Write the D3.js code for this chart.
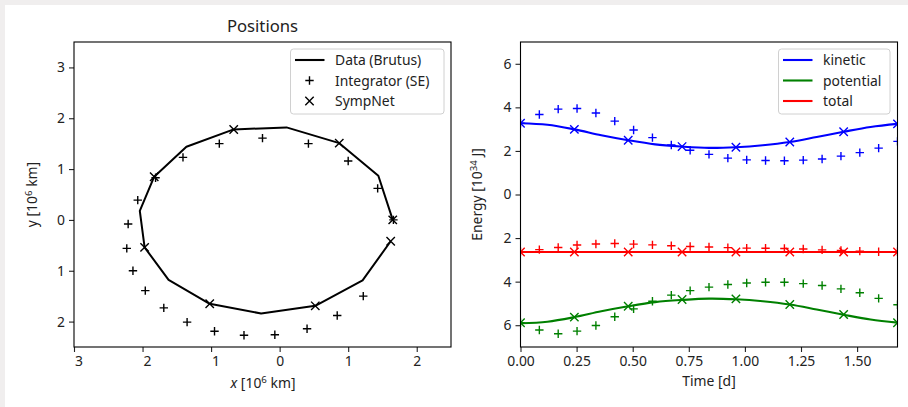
<!DOCTYPE html>
<html>
<head>
<meta charset="utf-8">
<script src="https://cdn.jsdelivr.net/npm/d3@7"></script>
<style>
body { margin: 0; background: #f0eeee; }
text { font-family: "Noto Sans", sans-serif; fill: #222; }
</style>
</head>
<body>
<svg id="chart" width="908" height="407"></svg>
<script>
// positions [10^6 km]
var brutusX = [1.65, 1.44, 0.87, 0.10, -0.67, -1.36, -1.83, -2.04, -1.97, -1.62, -1.02, -0.27, 0.52, 1.21, 1.62];
var brutusY = [0.00, 0.87, 1.51, 1.82, 1.78, 1.44, 0.85, 0.18, -0.54, -1.18, -1.65, -1.84, -1.69, -1.19, -0.42];
var seX = [1.66, 1.43, 1.00, 0.42, -0.25, -0.88, -1.41, -1.81, -2.07, -2.21, -2.23, -2.14, -1.96, -1.69, -1.35, -0.95, -0.52, -0.07, 0.40, 0.84, 1.22];
var seY = [0.00, 0.62, 1.16, 1.50, 1.61, 1.50, 1.23, 0.83, 0.39, -0.08, -0.56, -1.00, -1.39, -1.73, -2.01, -2.19, -2.27, -2.26, -2.14, -1.88, -1.50];
var netX = [1.65, 0.87, -0.67, -1.83, -1.97, -1.02, 0.52, 1.62];
var netY = [0.00, 1.51, 1.78, 0.85, -0.54, -1.65, -1.69, -0.42];

// energies [10^34 J]
var timeData = [0, 0.12, 0.24, 0.36, 0.48, 0.60, 0.72, 0.84, 0.96, 1.08, 1.20, 1.32, 1.44, 1.56, 1.68];
var kineticData = [3.27, 3.20, 2.99, 2.72, 2.49, 2.30, 2.20, 2.14, 2.17, 2.26, 2.41, 2.64, 2.88, 3.10, 3.24];
var potentialData = [-5.91, -5.84, -5.63, -5.36, -5.13, -4.94, -4.84, -4.78, -4.81, -4.90, -5.05, -5.28, -5.52, -5.74, -5.88];
var totalData = [-2.64, -2.64, -2.64, -2.64, -2.64, -2.64, -2.64, -2.64, -2.64, -2.64, -2.64, -2.64, -2.64, -2.64, -2.64];

var timeSE = [0, 0.084, 0.168, 0.252, 0.336, 0.42, 0.504, 0.588, 0.672, 0.756, 0.84, 0.924, 1.008, 1.092, 1.176, 1.26, 1.344, 1.428, 1.512, 1.596, 1.68];
var kineticSE = [3.27, 3.67, 3.92, 3.95, 3.74, 3.37, 2.96, 2.61, 2.27, 2.03, 1.84, 1.67, 1.59, 1.56, 1.55, 1.58, 1.63, 1.76, 1.92, 2.13, 2.44];
var potentialSE = [-5.89, -6.22, -6.39, -6.27, -6.01, -5.61, -5.25, -4.90, -4.62, -4.41, -4.25, -4.13, -4.06, -4.03, -4.03, -4.09, -4.18, -4.33, -4.51, -4.77, -5.06];
var totalSE = [-2.62, -2.53, -2.43, -2.32, -2.27, -2.25, -2.28, -2.31, -2.35, -2.39, -2.41, -2.44, -2.46, -2.47, -2.48, -2.50, -2.54, -2.57, -2.60, -2.63, -2.63];

var timeNet = [0, 0.24, 0.48, 0.72, 0.96, 1.20, 1.44, 1.68];
var kineticNet = [3.27, 2.99, 2.49, 2.20, 2.17, 2.41, 2.88, 3.24];
var potentialNet = [-5.89, -5.63, -5.13, -4.82, -4.79, -5.05, -5.51, -5.89];
var totalNet = [-2.64, -2.64, -2.64, -2.64, -2.64, -2.64, -2.64, -2.64];

var posTicksX = [-3, -2, -1, 0, 1, 2];
var posTicksY = [-2, -1, 0, 1, 2, 3];
var timeTicks = [0, 0.25, 0.5, 0.75, 1.0, 1.25, 1.5];
var energyTicks = [-6, -4, -2, 0, 2, 4, 6];

var svg = d3.select("#chart");
svg.append("rect").attr("x", 5).attr("y", 5).attr("width", 903).attr("height", 402).attr("fill", "white");

var plotTop = 42, plotBottom = 347;
var fontSize = 13.9;
var plusPath = "M-4.2,0H4.2M0,-4.2V4.2";
var crossPath = "M-4.2,-4.2L4.2,4.2M-4.2,4.2L4.2,-4.2";

function zip(a, b) { return a.map(function(v, i) { return [v, b[i]]; }); }

function drawAxes(xScale, yScale, xTicks, yTicks, xFmt, left, right, shiftNeg) {
	var xAxis = d3.axisBottom(xScale).tickValues(xTicks).tickSize(5).tickPadding(4).tickFormat(xFmt);
	var yAxis = d3.axisLeft(yScale).tickValues(yTicks).tickSize(5).tickPadding(4)
		.tickFormat(function(d) { return String(Math.abs(d)); });
	var gx = svg.append("g").attr("transform", "translate(0," + plotBottom + ")").call(xAxis);
	var gy = svg.append("g").attr("transform", "translate(" + left + ",0)").call(yAxis);
	[gx, gy].forEach(function(g) {
		g.select(".domain").remove();
		g.selectAll("line").attr("stroke", "#222").attr("stroke-width", 1.1);
		g.selectAll("text").style("font-size", fontSize + "px").attr("fill", "#222");
	});
	// minus glyph is missing in the reference, its space stays
	if (shiftNeg) gx.selectAll("text").attr("dx", function(d) { return d < 0 ? 4.5 : 0; });
	svg.append("rect").attr("x", left).attr("y", plotTop).attr("width", right - left).attr("height", plotBottom - plotTop)
		.attr("fill", "none").attr("stroke", "black").attr("stroke-width", 1.1);
}

function markers(g, pts, path, color) {
	g.selectAll(null).data(pts).enter().append("path")
		.attr("d", path)
		.attr("transform", function(d) { return "translate(" + d[0] + "," + d[1] + ")"; })
		.attr("stroke", color).attr("stroke-width", 1.4).attr("fill", "none");
}

function legend(x0, y0, w, items) {
	var g = svg.append("g").attr("transform", "translate(" + x0 + "," + y0 + ")");
	g.append("rect").attr("width", w).attr("height", 65).attr("rx", 3)
		.attr("fill", "white").attr("fill-opacity", 0.8).attr("stroke", "#d0d0d0");
	items.forEach(function(it, i) {
		var y = 11 + i * 20.5;
		if (it.type === "line") {
			g.append("line").attr("x1", 4.5).attr("x2", 34).attr("y1", y).attr("y2", y)
				.attr("stroke", it.color).attr("stroke-width", 2.1);
		} else {
			g.append("path").attr("d", it.type === "plus" ? plusPath : crossPath)
				.attr("transform", "translate(19," + y + ")")
				.attr("stroke", it.color).attr("stroke-width", 1.4).attr("fill", "none");
		}
		g.append("text").attr("x", 44.5).attr("y", y + 5).style("font-size", fontSize + "px").text(it.label);
	});
}

// ---- left: positions
var xPos = d3.scaleLinear().domain([-3, 2.5]).range([74, 451]);
var yPos = d3.scaleLinear().domain([-2.5, 3.5]).range([plotBottom, plotTop]);

var posG = svg.append("g");
posG.append("path").datum(zip(brutusX, brutusY))
	.attr("d", d3.line().x(function(d) { return xPos(d[0]); }).y(function(d) { return yPos(d[1]); }))
	.attr("fill", "none").attr("stroke", "black").attr("stroke-width", 2).attr("stroke-linejoin", "round");
markers(posG, zip(seX, seY).map(function(d) { return [xPos(d[0]), yPos(d[1])]; }), plusPath, "black");
markers(posG, zip(netX, netY).map(function(d) { return [xPos(d[0]), yPos(d[1])]; }), crossPath, "black");

drawAxes(xPos, yPos, posTicksX, posTicksY, function(d) { return String(Math.abs(d)); }, 74, 451, true);

svg.append("text").attr("x", 262.5).attr("y", 32).attr("text-anchor", "middle")
	.style("font-size", "16.7px").text("Positions");

var xl = svg.append("text").attr("x", 263).attr("y", 388).attr("text-anchor", "middle").style("font-size", fontSize + "px");
xl.append("tspan").style("font-style", "italic").text("x");
xl.append("tspan").text(" [10");
xl.append("tspan").attr("dy", -5).style("font-size", "9.7px").text("6");
xl.append("tspan").attr("dy", 5).text(" km]");

var yl = svg.append("text").attr("transform", "translate(37,194.5) rotate(-90)").attr("text-anchor", "middle").style("font-size", fontSize + "px");
yl.append("tspan").text("y [10");
yl.append("tspan").attr("dy", -5).style("font-size", "9.7px").text("6");
yl.append("tspan").attr("dy", 5).text(" km]");

legend(290.5, 49, 153.5, [
	{type: "line", color: "black", label: "Data (Brutus)"},
	{type: "plus", color: "black", label: "Integrator (SE)"},
	{type: "cross", color: "black", label: "SympNet"}
]);

// ---- right: energy
var xE = d3.scaleLinear().domain([0, 1.68]).range([520.5, 897.5]);
var yE = d3.scaleLinear().domain([-7, 7]).range([plotBottom, plotTop]);

var eG = svg.append("g");
eG.append("defs").append("clipPath").attr("id", "clipE").append("rect")
	.attr("x", 520.5).attr("y", plotTop).attr("width", 377).attr("height", plotBottom - plotTop);
var plotE = eG.append("g").attr("clip-path", "url(#clipE)");

var series = [
	{color: "blue", line: kineticData, se: kineticSE, net: kineticNet},
	{color: "green", line: potentialData, se: potentialSE, net: potentialNet},
	{color: "red", line: totalData, se: totalSE, net: totalNet}
];
var eLine = d3.line().curve(d3.curveCatmullRom).x(function(d) { return xE(d[0]); }).y(function(d) { return yE(d[1]); });
series.forEach(function(s) {
	plotE.append("path").datum(zip(timeData, s.line)).attr("d", eLine)
		.attr("fill", "none").attr("stroke", s.color).attr("stroke-width", 2.1);
	markers(plotE, zip(timeSE, s.se).map(function(d) { return [xE(d[0]), yE(d[1])]; }), plusPath, s.color);
	markers(plotE, zip(timeNet, s.net).map(function(d) { return [xE(d[0]), yE(d[1])]; }), crossPath, s.color);
});

drawAxes(xE, yE, timeTicks, energyTicks, d3.format(".2f"), 520.5, 897.5, false);

svg.append("text").attr("x", 709).attr("y", 386).attr("text-anchor", "middle")
	.style("font-size", fontSize + "px").text("Time [d]");

var el = svg.append("text").attr("transform", "translate(482,194.5) rotate(-90)").attr("text-anchor", "middle").style("font-size", fontSize + "px");
el.append("tspan").text("Energy [10");
el.append("tspan").attr("dy", -5).style("font-size", "9.7px").text("34");
el.append("tspan").attr("dy", 5).text(" J]");

legend(778.5, 49, 111.5, [
	{type: "line", color: "blue", label: "kinetic"},
	{type: "line", color: "green", label: "potential"},
	{type: "line", color: "red", label: "total"}
]);
</script>
</body>
</html>
